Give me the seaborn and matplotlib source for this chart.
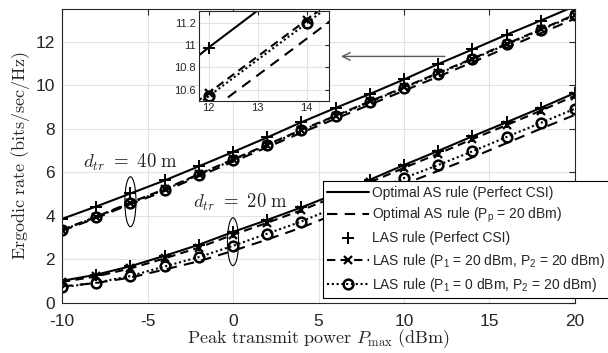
import numpy as np
import pandas as pd
import seaborn as sns
import matplotlib
matplotlib.use('Agg')
import matplotlib.pyplot as plt
from matplotlib.patches import Ellipse

# %% data
p_max = [-10, -8, -6, -4, -2, 0, 2, 4, 6, 8, 10, 12, 14, 16, 18, 20]

# d_tr = 40 m
d40_opt = [3.85, 4.42, 5.02, 5.62, 6.27, 6.93, 7.60, 8.30, 8.96, 9.60, 10.27, 10.98, 11.65, 12.33, 12.98, 13.65]
d40_opt_pp = [3.30, 3.89, 4.53, 5.13, 5.81, 6.48, 7.15, 7.82, 8.46, 9.11, 9.75, 10.40, 11.06, 11.73, 12.40, 13.07]
d40_las = [3.85, 4.42, 5.02, 5.62, 6.27, 6.93, 7.60, 8.30, 8.96, 9.60, 10.27, 10.98, 11.65, 12.33, 12.98, 13.65]
d40_las_20 = [3.35, 3.95, 4.60, 5.22, 5.91, 6.59, 7.27, 7.95, 8.60, 9.26, 9.91, 10.57, 11.23, 11.91, 12.58, 13.25]
d40_las_0 = [3.33, 3.93, 4.58, 5.19, 5.88, 6.56, 7.24, 7.92, 8.57, 9.23, 9.88, 10.54, 11.20, 11.88, 12.55, 13.22]

# d_tr = 20 m
d20_opt = [1.00, 1.28, 1.67, 2.15, 2.66, 3.25, 3.80, 4.38, 5.00, 5.65, 6.33, 6.98, 7.65, 8.30, 8.96, 9.65]
d20_opt_pp = [0.74, 0.90, 1.15, 1.52, 1.90, 2.38, 2.90, 3.45, 4.08, 4.76, 5.45, 6.06, 6.68, 7.34, 8.00, 8.64]
d20_las = [1.00, 1.28, 1.67, 2.15, 2.66, 3.25, 3.80, 4.38, 5.00, 5.65, 6.33, 6.98, 7.65, 8.30, 8.96, 9.65]
d20_las_20 = [0.95, 1.20, 1.57, 2.03, 2.53, 3.12, 3.67, 4.25, 4.88, 5.53, 6.20, 6.85, 7.52, 8.17, 8.83, 9.52]
d20_las_0 = [0.70, 0.91, 1.22, 1.66, 2.09, 2.61, 3.17, 3.73, 4.38, 5.05, 5.73, 6.33, 6.96, 7.62, 8.27, 8.92]

labels = ["Optimal AS rule (Perfect CSI)",
          "Optimal AS rule (P$_\\mathrm{p}$ = 20 dBm)",
          "LAS rule (Perfect CSI)",
          "LAS rule (P$_\\mathrm{1}$ = 20 dBm, P$_\\mathrm{2}$ = 20 dBm)",
          "LAS rule (P$_\\mathrm{1}$ = 0 dBm, P$_\\mathrm{2}$ = 20 dBm)"]

# %% style
sns.set_style("white")
plt.rcParams['font.family'] = ['Liberation Sans', 'DejaVu Sans']
plt.rcParams['mathtext.fontset'] = 'cm'
plt.rcParams['mathtext.rm'] = 'Liberation Sans'
plt.rcParams['mathtext.it'] = 'Liberation Sans:italic'
plt.rcParams['axes.unicode_minus'] = False

line_styles = [
    dict(linestyle='-', marker=None),
    dict(linestyle=(0, (5, 3.5)), marker=None),
    dict(linestyle='none', marker='+', markersize=9, markeredgewidth=1.4),
    dict(linestyle=(0, (4, 2.5)), marker='x', markersize=6, markeredgewidth=1.6),
    dict(linestyle=(0, (1, 1.3)), marker='o', markersize=7, markeredgewidth=1.8,
         markerfacecolor='none'),
]
series_40 = [d40_opt, d40_opt_pp, d40_las, d40_las_20, d40_las_0]
series_20 = [d20_opt, d20_opt_pp, d20_las, d20_las_20, d20_las_0]

fig = plt.figure(figsize=(6.08, 3.53), dpi=100)
ax = fig.add_axes([0.102, 0.143, 0.8437, 0.8307])


def draw(ax, with_labels):
    for k, (s40, s20, st) in enumerate(zip(series_40, series_20, line_styles)):
        for s, lab in [(s40, labels[k] if with_labels else None), (s20, None)]:
            df = pd.DataFrame({"p": p_max, "rate": s})
            sns.lineplot(data=df, x="p", y="rate", ax=ax, color='k',
                         linewidth=1.5, markeredgecolor='k', label=lab,
                         legend=False, **st)


draw(ax, True)

ax.set_xlim(-10, 20)
ax.set_ylim(0, 13.5)
ax.set_xticks(np.arange(-10, 21, 5))
ax.set_yticks(np.arange(0, 13, 2))
ax.grid(True, color='#e3e3e3', linewidth=0.8)
ax.tick_params(direction='in', top=True, right=True, labelsize=12.5,
               colors='#262626', length=4)
ax.tick_params(axis='x', pad=8)
ax.tick_params(axis='y', pad=5)
for sp in ax.spines.values():
    sp.set_color('#262626')
    sp.set_linewidth(0.8)
ax.set_xlabel(r"$\mathrm{Peak\ transmit\ power}\ P_{\mathrm{max}}\ \mathrm{(dBm)}$",
              fontsize=13, labelpad=-1)
ax.set_ylabel(r"$\mathrm{Ergodic\ rate\ (bits/sec/Hz)}$", fontsize=13, labelpad=3)

# annotations
ax.add_patch(Ellipse((-6, 4.64), 0.65, 2.3, fill=False, color='k', lw=0.8))
ax.add_patch(Ellipse((0, 2.8), 0.65, 2.2, fill=False, color='k', lw=0.8))
ax.text(-8.8, 6.45, r"$d_{tr}\ =\ 40\ \mathrm{m}$", fontsize=13.5, va='center')
ax.text(-2.35, 4.6, r"$d_{tr}\ =\ 20\ \mathrm{m}$", fontsize=13.5, va='center')
ax.annotate("", xy=(6.15, 11.33), xytext=(12.55, 11.33),
            arrowprops=dict(arrowstyle='->', color='0.35', lw=1,
                            mutation_scale=14))

leg = ax.legend(loc='lower left', bbox_to_anchor=(0.509, 0.015),
                fontsize=10, frameon=True, fancybox=False, framealpha=1,
                edgecolor='k', handlelength=3.0, handletextpad=0.2,
                labelspacing=0.45, borderpad=0.3, borderaxespad=0)
leg.get_frame().set_linewidth(0.8)
for t in leg.get_texts():
    t.set_math_fontfamily('custom')

# %% inset zoom
ax_in = fig.add_axes([0.327, 0.7147, 0.2138, 0.2541])
draw(ax_in, False)
ax_in.set_xlim(11.8, 14.45)
ax_in.set_ylim(10.5, 11.31)
ax_in.set_xticks([12, 13, 14])
ax_in.set_yticks([10.6, 10.8, 11, 11.2])
ax_in.set_yticklabels(["10.6", "10.8", "11", "11.2"])
ax_in.set_xlabel("")
ax_in.set_ylabel("")
ax_in.grid(True, color='#e3e3e3', linewidth=0.8)
ax_in.tick_params(direction='in', top=True, right=True, labelsize=8,
                  colors='#262626', length=3, pad=2)
for sp in ax_in.spines.values():
    sp.set_color('#262626')
    sp.set_linewidth(0.8)

fig.savefig("out.png", dpi=100)
